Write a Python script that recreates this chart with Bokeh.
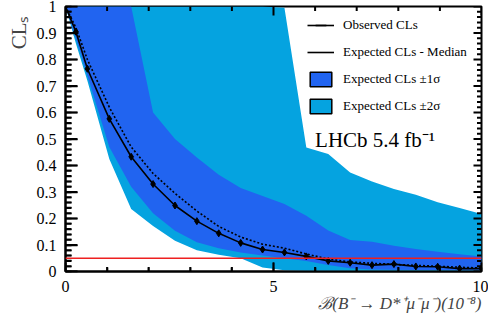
import math
import numpy as np
from bokeh.plotting import figure
from bokeh.models import (ColumnDataSource, Span, Label, Legend, LegendItem,
                          Range1d, FixedTicker, Whisker, TeeHead, Title)
from bokeh.embed import file_html
from bokeh.resources import INLINE

# ---------------- data ----------------
x_vals = [0.0, 0.25, 0.526, 1.053, 1.579, 2.105, 2.632, 3.158, 3.684, 4.211, 4.737,
          5.263, 5.789, 6.316, 6.842, 7.368, 7.895, 8.421, 8.947, 9.474, 10.0]
observed = [1.0, 0.905, 0.765, 0.576, 0.433, 0.330, 0.249, 0.190, 0.144, 0.108, 0.083,
            0.072, 0.057, 0.040, 0.033, 0.024, 0.028, 0.019, 0.018, 0.011, 0.011]
observed_err = [0.0, 0.014, 0.014, 0.012, 0.010, 0.008, 0.007, 0.006, 0.005, 0.005, 0.005,
                0.004, 0.004, 0.004, 0.004, 0.003, 0.003, 0.003, 0.003, 0.003, 0.003]
expected_median = [1.0, 0.92, 0.80, 0.62, 0.47, 0.37, 0.295, 0.228, 0.170, 0.130, 0.103,
                   0.088, 0.066, 0.047, 0.036, 0.031, 0.027, 0.023, 0.020, 0.016, 0.013]
band1_low = [1.0, 0.88, 0.74, 0.47, 0.32, 0.22, 0.154, 0.110, 0.088, 0.072, 0.060,
             0.050, 0.040, 0.025, 0.012, 0.008, 0.007, 0.006, 0.006, 0.005, 0.005]
band1_high = [1.0, 1.0, 1.0, 1.0, 1.0, 0.60, 0.50, 0.43, 0.365, 0.315, 0.285,
              0.255, 0.21, 0.155, 0.119, 0.112, 0.097, 0.085, 0.075, 0.065, 0.057]
band2_low = [1.0, 0.86, 0.72, 0.425, 0.236, 0.172, 0.116, 0.080, 0.063, 0.050, 0.015,
             0.005, 0.003, 0.003, 0.003, 0.003, 0.003, 0.003, 0.003, 0.003, 0.003]
band2_high = [1.0, 1.0, 1.0, 1.0, 1.0, 1.0, 1.0, 1.0, 1.0, 1.0, 1.0,
              0.995, 0.468, 0.443, 0.374, 0.34, 0.311, 0.29, 0.261, 0.24, 0.217]
threshold = 0.05
x_ticks = [0, 5, 10]
y_ticks = [0, 0.1, 0.2, 0.3, 0.4, 0.5, 0.6, 0.7, 0.8, 0.9, 1]

FONT = "Liberation Serif"
C1 = "#2164F0"
C2 = "#05A3E0"

W, H = 488, 320
BL, BR, BT, BB = 65, 7, 6, 49
XMIN, XMAX, YMIN, YMAX = 0, 10, 0, 1

src = ColumnDataSource(dict(
    x=x_vals, obs=observed,
    lo=[o - e for o, e in zip(observed, observed_err)],
    hi=[o + e for o, e in zip(observed, observed_err)],
    med=expected_median, l1=band1_low, h1=band1_high, l2=band2_low, h2=band2_high))

p = figure(width=W, height=H, output_backend="svg", toolbar_location=None,
           x_range=Range1d(XMIN, XMAX), y_range=Range1d(YMIN, YMAX),
           min_border_left=BL, min_border_right=BR, min_border_top=BT, min_border_bottom=BB)
p.background_fill_color = "white"
p.border_fill_color = "white"
p.outline_line_color = "black"
p.outline_line_width = 2
p.xgrid.visible = False
p.ygrid.visible = False

# bands
p.varea(x="x", y1="l2", y2="h2", source=src, fill_color=C2)
p.varea(x="x", y1="l1", y2="h1", source=src, fill_color=C1)

# threshold
p.add_layout(Span(location=threshold, dimension="width", line_color="#EE2020", line_width=1.6))

# expected median (dotted)
p.line(x="x", y="med", source=src, line_color="black", line_width=1.6, line_dash="2 2")

# observed
p.line(x="x", y="obs", source=src, line_color="black", line_width=1.6)
p.add_layout(Whisker(base="x", upper="hi", lower="lo", source=src, line_color="black",
                     line_width=1.2,
                     upper_head=TeeHead(size=4, line_color="black", line_width=1.2),
                     lower_head=TeeHead(size=4, line_color="black", line_width=1.2)))
p.scatter(x="x", y="obs", source=src, marker="diamond", size=7, color="black")

# axes: labels (and inward ticks) from the axes
x_minor = [float(v) for v in np.arange(0, 10.01, 1.0)]
y_minor = [round(float(v), 2) for v in np.arange(0, 1.001, 0.02)]

for ax, mj, mn in ((p.xaxis[0], 9, 4), (p.yaxis[0], 12, 6)):
    ax.axis_line_color = "black"
    ax.axis_line_width = 2
    ax.major_tick_in = mj
    ax.major_tick_out = 0
    ax.minor_tick_in = mn
    ax.minor_tick_out = 0
    ax.major_tick_line_width = 1.5
    ax.minor_tick_line_width = 1.5
    ax.major_label_text_font = FONT
    ax.major_label_text_font_size = "16px"
    ax.major_label_text_color = "black"
p.xaxis.ticker = FixedTicker(ticks=x_ticks, minor_ticks=x_minor)
p.yaxis.ticker = FixedTicker(ticks=y_ticks, minor_ticks=y_minor)
p.xaxis.major_label_standoff = 9
p.yaxis.major_label_standoff = 9
p.yaxis.major_label_overrides = {0: "0", 1: "1"}

# inward tick marks on all four sides, derived from the tick lists
px_x = (W - BL - BR) / (XMAX - XMIN)   # pixels per x unit
px_y = (H - BT - BB) / (YMAX - YMIN)   # pixels per y unit
xmaj = set(x_ticks)
ymaj = set(round(v, 2) for v in y_ticks)
t = dict(x0=[], y0=[], x1=[], y1=[])
for xv in x_minor:
    L = (9 if xv in xmaj else 4.5) / px_y
    t["x0"] += [xv, xv]; t["x1"] += [xv, xv]
    t["y0"] += [YMIN, YMAX]; t["y1"] += [YMIN + L, YMAX - L]
for yv in y_minor:
    Ll = (12 if yv in ymaj else 6) / px_x
    Lr = (8 if yv in ymaj else 4.5) / px_x
    t["x0"] += [XMIN, XMAX]; t["x1"] += [XMIN + Ll, XMAX - Lr]
    t["y0"] += [yv, yv]; t["y1"] += [yv, yv]
tick_src = ColumnDataSource(t)
p.segment(x0="x0", y0="y0", x1="x1", y1="y1", source=tick_src,
          line_color="black", line_width=2)

# texts
p.add_layout(Title(text="CLₛ", align="right", text_font=FONT, text_font_size="21px",
                   text_font_style="normal", standoff=5, offset=9), "left")
p.add_layout(Title(text="ℬ(B⁻ → D*⁺μ⁻μ⁻)(10⁻⁸)", align="right", text_font=FONT,
                   text_font_size="17px", text_font_style="italic", standoff=-5,
                   offset=0), "below")
p.add_layout(Label(x=6.0, y=0.495, text="LHCb 5.4 fb⁻¹", text_font=FONT,
                   text_font_size="21px", text_align="left", text_baseline="middle",
                   text_color="black"))

# legend dummies (one NaN point so nothing shows in the plot)
nan = [float("nan")]
r_obs_line = p.line(x=nan, y=nan, line_color="black", line_width=1.6)
r_obs_bar = p.scatter(x=nan, y=nan, marker="dash", angle=math.pi / 2, size=10,
                      line_color="black", line_width=1.6)
r_med = p.line(x=nan, y=nan, line_color="black", line_width=1.6)
r_b1 = p.quad(left=nan, right=nan, top=nan, bottom=nan, fill_color=C1, line_color="black", line_width=1.5)
r_b2 = p.quad(left=nan, right=nan, top=nan, bottom=nan, fill_color=C2, line_color="black", line_width=1.5)

def mk_legend(items, gh, loc):
    lg = Legend(items=items, location=loc, orientation="vertical",
                glyph_width=27, glyph_height=gh, label_height=gh, spacing=9,
                label_standoff=9, padding=0, margin=0,
                label_text_font=FONT, label_text_font_size="13px", label_text_color="black",
                background_fill_alpha=0, border_line_color=None)
    p.add_layout(lg)

mk_legend([LegendItem(label="Observed CLs", renderers=[r_obs_line, r_obs_bar])], 38, (242, 227))
mk_legend([LegendItem(label="Expected CLs - Median", renderers=[r_med]),
           LegendItem(label="Expected CLs ±1σ", renderers=[r_b1]),
           LegendItem(label="Expected CLs ±2σ", renderers=[r_b2])], 18, (242, 156))

open("out.html", "w").write(file_html(p, INLINE))
